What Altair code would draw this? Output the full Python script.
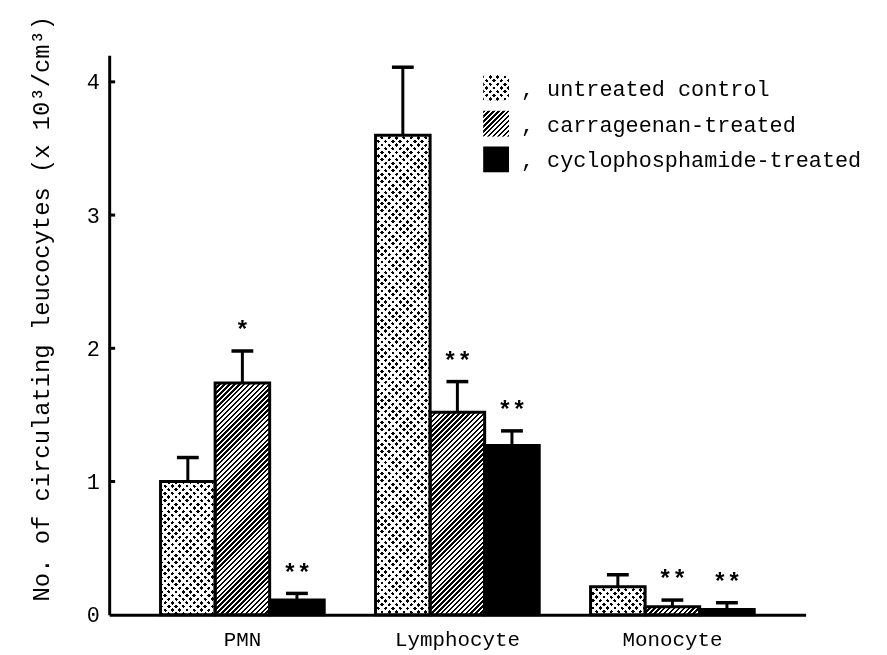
import math
import altair as alt
import pandas as pd

# ---------------- data ----------------
groups = ["PMN", "Lymphocyte", "Monocyte"]
series = ["untreated control", "carrageenan-treated", "cyclophosphamide-treated"]

untreated = [1.00, 3.60, 0.21]
untreated_se = [0.18, 0.51, 0.09]
carrageenan = [1.74, 1.52, 0.06]
carrageenan_se = [0.24, 0.23, 0.05]
cyclophosphamide = [0.11, 1.27, 0.04]
cyclophosphamide_se = [0.05, 0.11, 0.05]

sig_untreated = ["", "", ""]
sig_carrageenan = ["*", "**", "**"]
sig_cyclophosphamide = ["**", "**", "**"]

y_ticks = [0, 1, 2, 3, 4]
y_max = 4.2

# ---------------- layout / style ----------------
W, H = 702, 564
PAD = {"left": 102, "top": 45, "right": 74, "bottom": 38}
FONT = "Liberation Mono"
PO_GROUP = 0.1195
PO_BAR = 0.4705

step = W / (len(groups) + 2 * PO_GROUP)
bar_w = step / (len(series) + 2 * PO_BAR)
px_per_unit = H / y_max

rows = []
vals = [untreated, carrageenan, cyclophosphamide]
ses = [untreated_se, carrageenan_se, cyclophosphamide_se]
sigs = [sig_untreated, sig_carrageenan, sig_cyclophosphamide]
for si, s in enumerate(series):
    for gi, g in enumerate(groups):
        v = vals[si][gi]
        e = ses[si][gi]
        rows.append({"group": g, "series": s, "value": v, "top": v + e, "sig": sigs[si][gi]})
df = pd.DataFrame(rows)


def stripes(w, h, period, frac, direction):
    """Hard-edged linear gradient that draws 45-degree stripes in a w x h box."""
    L = (w + h) / math.sqrt(2)
    s = (1 / h + 1 / w) / (1 / h ** 2 + 1 / w ** 2)
    if direction == "/":
        x1, y1, x2, y2 = 0, 0, s / h, s / w
    else:
        x1, y1, x2, y2 = 0, 1, s / h, 1 - s / w
    n = L / period
    stops = []
    k = 0
    while k / n < 1:
        a = round(k / n, 5)
        b = round(min((k + frac) / n, 1), 5)
        c = round(min((k + 1) / n, 1), 5)
        stops += [
            {"offset": a, "color": "#000000"},
            {"offset": b, "color": "#000000"},
            {"offset": b, "color": "#ffffff"},
            {"offset": c, "color": "#ffffff"},
        ]
        k += 1
    return {"gradient": "linear", "x1": x1, "y1": y1, "x2": round(x2, 5), "y2": round(y2, 5), "stops": stops}


DOT_P, DOT_F = 5.2, 0.5
HATCH_P, HATCH_F = 3.5, 0.5

ysc = alt.Scale(domain=[0, y_max], nice=False, zero=True)
yaxis = alt.Axis(
    values=y_ticks, ticks=False, grid=False, domainColor="black", domainWidth=3,
    labelFont=FONT, labelFontSize=22, labelColor="black", labelPadding=10,
    title="No. of circulating leucocytes (x 10³/cm³)", titleFont=FONT, titleFontSize=24,
    titleFontWeight="normal", titleColor="black", titleAngle=270, titleX=-68, titleY=255,
    titleAlign="center", titleBaseline="middle",
)
xsc = alt.Scale(domain=groups, paddingInner=0, paddingOuter=PO_GROUP)
xaxis = alt.Axis(
    title="", labelAngle=0, ticks=False, grid=False, domainColor="black", domainWidth=3,
    labelFont=FONT, labelFontSize=21, labelColor="black", labelPadding=14,
)
xo = alt.XOffset("series:N", scale=alt.Scale(domain=series, paddingInner=0, paddingOuter=PO_BAR))

base = alt.Chart(df).encode(
    x=alt.X("group:N", sort=groups, scale=xsc, axis=xaxis),
    xOffset=xo,
    y=alt.Y("value:Q", scale=ysc, axis=yaxis),
)

layers = []
for r in rows:
    h = max(r["value"] * px_per_unit, 1.0)
    sel = base.transform_filter((alt.datum.group == r["group"]) & (alt.datum.series == r["series"]))
    if r["series"] == series[0]:
        layers.append(sel.mark_bar(fill=stripes(bar_w, h, DOT_P, DOT_F, "/")))
        layers.append(sel.mark_bar(fill=stripes(bar_w, h, DOT_P, DOT_F, "\\"), blend="lighten"))
    elif r["series"] == series[1]:
        layers.append(sel.mark_bar(fill=stripes(bar_w, h, HATCH_P, HATCH_F, "/")))
    else:
        layers.append(sel.mark_bar(fill="#000000"))

outline = base.mark_bar(fillOpacity=0, stroke="black", strokeWidth=3)
err = base.mark_rule(color="black", strokeWidth=3).encode(
    y=alt.Y("value:Q", scale=ysc, axis=yaxis), y2="top:Q")
cap = base.mark_tick(color="black", size=22, thickness=3.5, opacity=1).encode(
    y=alt.Y("top:Q", scale=ysc, axis=yaxis))
stars = base.mark_text(font=FONT, fontSize=24, fontWeight="bold", color="black", baseline="middle", dy=-20).encode(
    y=alt.Y("top:Q", scale=ysc, axis=yaxis), text="sig:N")

tick_df = pd.DataFrame({"t": [t for t in y_ticks if t > 0]})
yticks = alt.Chart(tick_df).mark_rule(color="black", strokeWidth=3).encode(
    y=alt.Y("t:Q", scale=ysc, axis=yaxis), x=alt.value(0), x2=alt.value(6))

# ---------------- legend (drawn by hand) ----------------
SW = 26
leg_x = 377
leg_y = [20, 56, 92]
legend_layers = []
sw_fills = [
    [(stripes(SW, SW, DOT_P, DOT_F, "/"), None), (stripes(SW, SW, DOT_P, DOT_F, "\\"), "lighten")],
    [(stripes(SW, SW, HATCH_P, HATCH_F, "/"), None)],
    [("#000000", None)],
]
for i, s in enumerate(series):
    ldf = pd.DataFrame({"label": [", " + s]})
    for fill, blend in sw_fills[i]:
        kw = {"fill": fill}
        if blend:
            kw["blend"] = blend
        legend_layers.append(
            alt.Chart(ldf).mark_rect(**kw).encode(
                x=alt.value(leg_x), x2=alt.value(leg_x + SW),
                y=alt.value(leg_y[i]), y2=alt.value(leg_y[i] + SW)))
    legend_layers.append(
        alt.Chart(ldf).mark_text(font=FONT, fontSize=22, align="left", baseline="middle", color="black").encode(
            x=alt.value(leg_x + 38), y=alt.value(leg_y[i] + SW / 2 + 1), text="label:N"))

chart = alt.layer(*layers, outline, err, cap, stars, yticks, *legend_layers).properties(
    width=W, height=H, padding=PAD, autosize=alt.AutoSizeParams(type="none"), background="white",
).configure_view(strokeWidth=0)

chart.save("out.html", embed_options={"renderer": "svg", "actions": False})
